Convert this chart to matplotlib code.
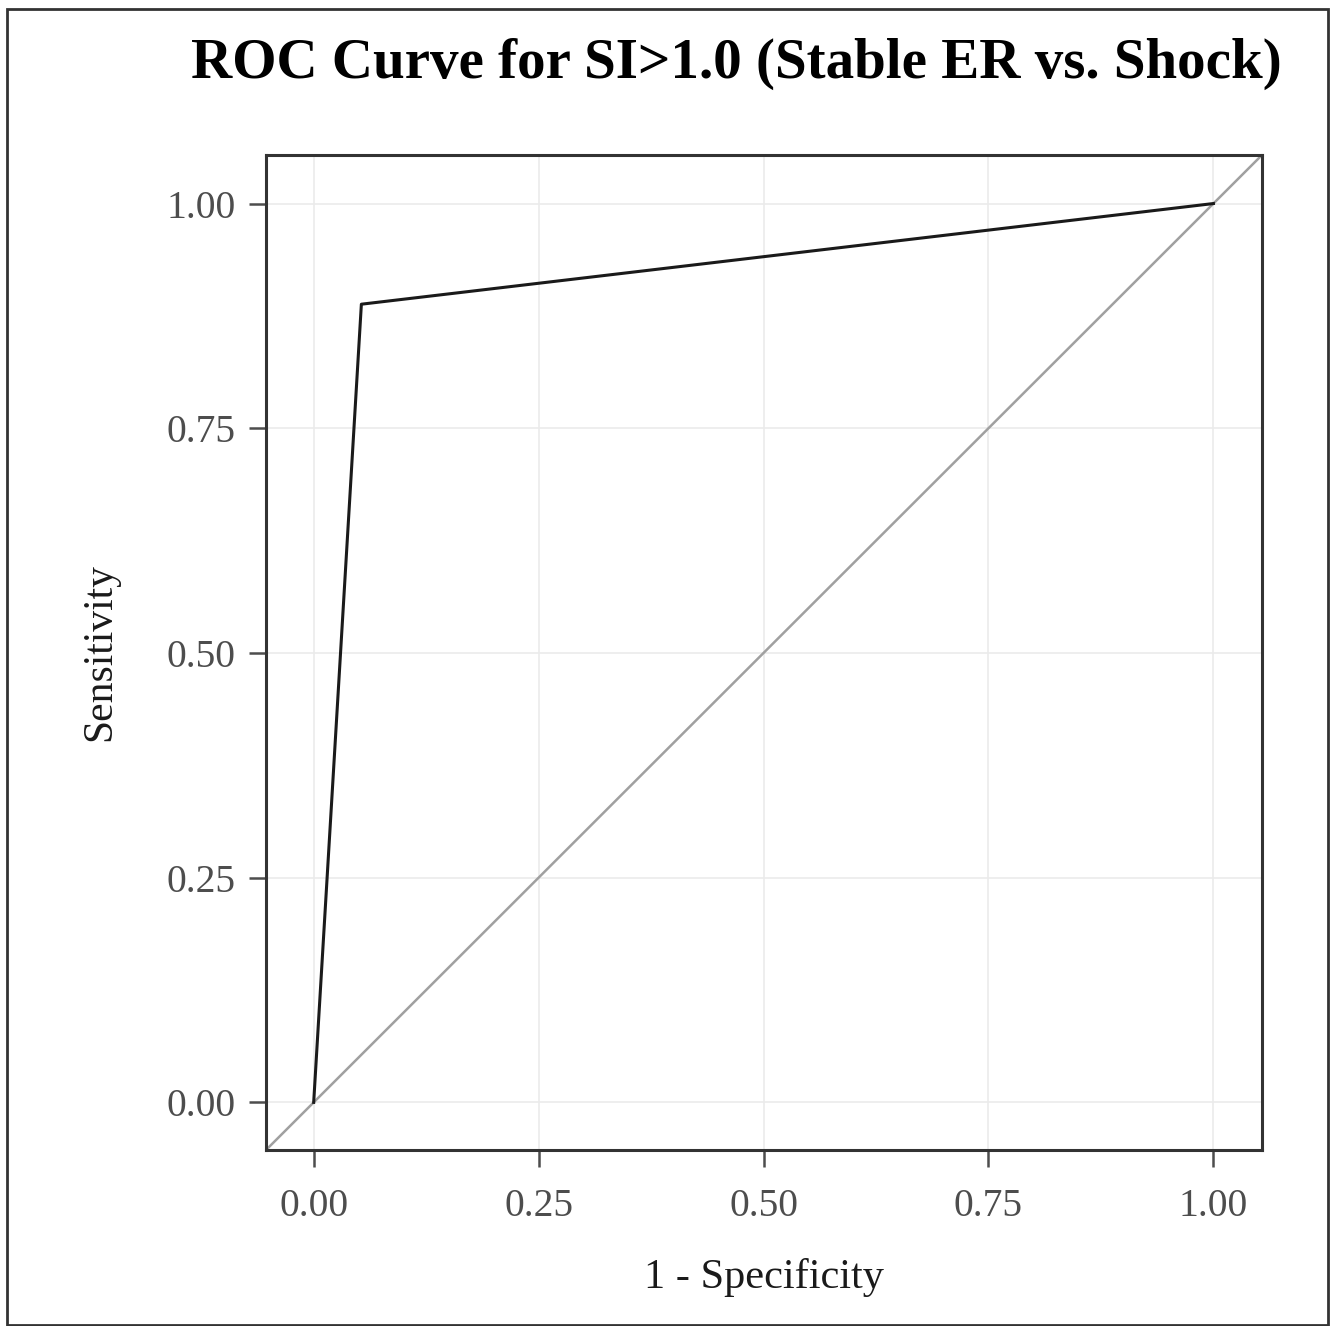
import matplotlib.pyplot as plt
from matplotlib.patches import Rectangle

# ROC points
fpr = [0.0, 0.053, 1.0]
tpr = [0.0, 0.888, 1.0]
ticks = [0.0, 0.25, 0.5, 0.75, 1.0]
tick_labels = ["0.00", "0.25", "0.50", "0.75", "1.00"]
lims = (-0.053, 1.054)

plt.rcParams['font.family'] = ['Liberation Serif', 'DejaVu Serif']

W, H = 1335, 1326
fig = plt.figure(figsize=(W / 100, H / 100), dpi=100)
ax = fig.add_axes([266 / W, 1 - 1150 / H, (1262 - 266) / W, (1150 - 155) / H])

ax.set_xlim(*lims)
ax.set_ylim(*lims)

# reference diagonal corner to corner
ax.plot(lims, lims, color='#a0a0a0', lw=1.8, zorder=2)
ax.plot(fpr, tpr, color='#1a1a1a', lw=2.2, zorder=3)

ax.set_xticks(ticks)
ax.set_yticks(ticks)
ax.set_xticklabels(tick_labels)
ax.set_yticklabels(tick_labels)
ax.grid(True, color='#ebebeb', lw=1.2, zorder=0)
ax.set_axisbelow(True)

ax.tick_params(direction='out', length=12, width=1.8, color='#4d4d4d',
               labelsize=28.5, labelcolor='#4d4d4d')
ax.tick_params(axis='x', pad=15)
ax.tick_params(axis='y', pad=10)
for s in ax.spines.values():
    s.set_color('#333333')
    s.set_linewidth(2.2)

fig.text(736 / W, 1 - 78 / H, "ROC Curve for SI>1.0 (Stable ER vs. Shock)",
         ha='center', va='baseline', fontsize=41, fontweight='bold', color='black')
fig.text(764 / W, 1 - 1288 / H, "1 - Specificity", ha='center', va='baseline',
         fontsize=30.5, color='#1a1a1a')
fig.text(100 / W, 1 - 652 / H, "Sensitivity", ha='center', va='center',
         rotation=90, fontsize=30, color='#1a1a1a')

# outer frame around the whole picture
fig.patches.append(Rectangle((7 / W, 1 / H), (1328 - 7) / W, (1317 - 1) / H,
                             transform=fig.transFigure, fill=False,
                             edgecolor='#333333', lw=2))

fig.savefig('out.png', dpi=100, facecolor='white')
